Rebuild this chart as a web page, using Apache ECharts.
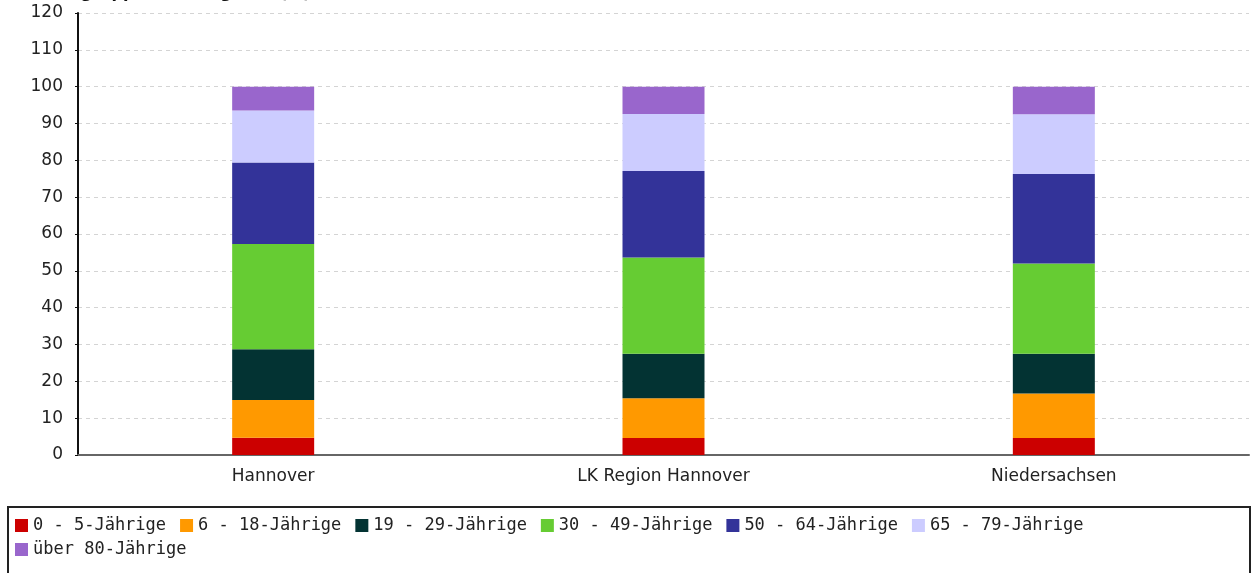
<!DOCTYPE html>
<html>
<head>
<meta charset="utf-8">
<script src="https://cdn.jsdelivr.net/npm/echarts@6/dist/echarts.min.js"></script>
<style>
  html, body { margin: 0; padding: 0; background: #fff; }
  #main { width: 1254px; height: 573px; }
</style>
</head>
<body>
<div id="main"></div>
<script>
var regions = ['Hannover', 'LK Region Hannover', 'Niedersachsen'];
var ageGroups = ['0 - 5-Jährige', '6 - 18-Jährige', '19 - 29-Jährige', '30 - 49-Jährige',
                 '50 - 64-Jährige', '65 - 79-Jährige', 'über 80-Jährige'];
var colors = ['#cc0000', '#ff9900', '#033333', '#66cc33', '#333399', '#ccccff', '#9966cc'];

// Anteile in % je Region (Hannover, LK Region Hannover, Niedersachsen)
var age0to5   = [4.7, 4.6, 4.6];
var age6to18  = [10.2, 10.8, 12.1];
var age19to29 = [13.8, 12.1, 10.8];
var age30to49 = [28.6, 26.1, 24.5];
var age50to64 = [22.1, 23.5, 24.3];
var age65to79 = [14.1, 15.5, 16.2];
var age80plus = [6.5, 7.4, 7.5];
var values = [age0to5, age6to18, age19to29, age30to49, age50to64, age65to79, age80plus];

var yTicks = { min: 0, max: 120, interval: 10 };

var myChart = echarts.init(document.getElementById('main'));

var series = ageGroups.map(function (name, i) {
    return {
        name: name,
        type: 'bar',
        stack: 'total',
        barWidth: 82,
        data: values[i],
        itemStyle: { color: colors[i] }
    };
});

var legendText = { fontFamily: 'DejaVu Sans Mono', fontSize: 17, color: '#222' };

var option = {
    backgroundColor: '#fff',
    animation: false,
    // Titel ist im Original oben abgeschnitten
    title: {
        text: 'Altersgruppen im Vergleich (%)',
        left: 22,
        top: -19,
        textStyle: { fontFamily: 'DejaVu Sans', fontSize: 16, fontWeight: 'bold', color: '#111' }
    },
    grid: { left: 78, right: 5, top: 13, bottom: 118 },
    legend: [{
        data: ageGroups.slice(0, 6),
        left: 10,
        top: 512,
        icon: 'rect',
        itemWidth: 13,
        itemHeight: 13,
        itemGap: 14,
        textStyle: legendText
    }, {
        data: ageGroups.slice(6),
        left: 10,
        top: 536,
        icon: 'rect',
        itemWidth: 13,
        itemHeight: 13,
        textStyle: legendText
    }],
    xAxis: {
        type: 'category',
        data: regions,
        axisLine: { lineStyle: { color: '#666', width: 2 } },
        axisTick: { show: false },
        axisLabel: { margin: 13, fontFamily: 'DejaVu Sans', fontSize: 17, color: '#222' }
    },
    yAxis: {
        type: 'value',
        min: yTicks.min,
        max: yTicks.max,
        interval: yTicks.interval,
        axisLine: { show: true, lineStyle: { color: '#111', width: 2 } },
        axisTick: { show: true, length: 3, lineStyle: { color: '#111' } },
        axisLabel: { margin: 15, fontFamily: 'DejaVu Sans', fontSize: 17, color: '#222' },
        splitLine: { lineStyle: { color: '#d4d4d4', type: [4, 4] } }
    },
    graphic: [{
        type: 'rect',
        shape: { x: 8, y: 507, width: 1242, height: 80 },
        style: { fill: 'none', stroke: '#222', lineWidth: 2 },
        silent: true
    }],
    series: series
};

myChart.setOption(option);
</script>
</body>
</html>
